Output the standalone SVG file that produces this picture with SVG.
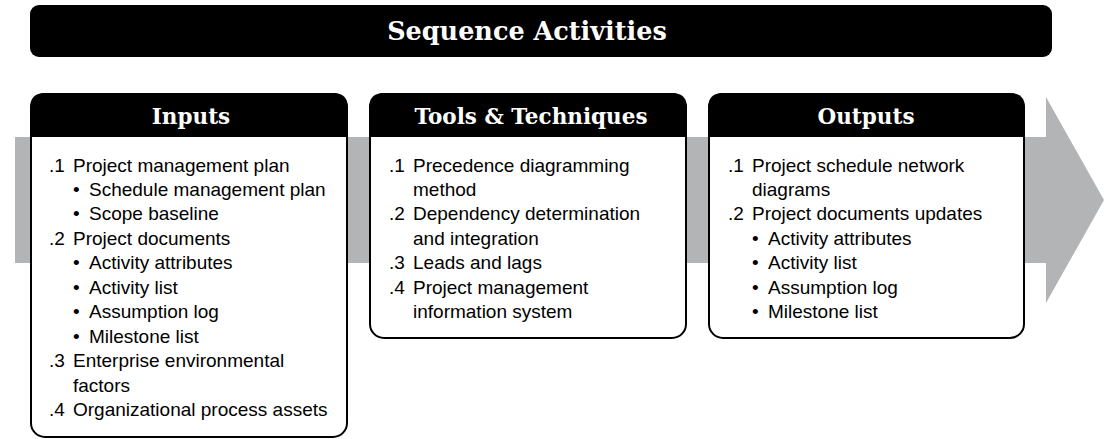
<svg xmlns="http://www.w3.org/2000/svg" width="1104" height="439" viewBox="0 0 1104 439">
<style>
.box{fill:#fff;stroke:#000;stroke-width:2}
.hdr{fill:#000}
.ht{font-family:"DejaVu Serif",serif;font-weight:bold;font-size:21.5px;fill:#fff;text-anchor:middle}
.tt{font-family:"DejaVu Serif",serif;font-weight:bold;font-size:25.5px;fill:#fff;text-anchor:middle}
.b{font-family:"Liberation Sans",Arial,sans-serif;font-size:19px;fill:#000}
</style>
<g id="flow-arrow">
<path d="M15,137 H1046 V97 L1104,200 L1046,303 V263 H15 Z" fill="#b2b4b6"/>
</g>
<g id="title">
<rect x="30" y="5" width="1022" height="52" rx="9" fill="#000"/>
<text class="tt" x="527" y="40">Sequence Activities</text>
</g>
<g id="inputs">
<rect class="box" x="31" y="94" width="316" height="343" rx="14"/>
<path class="hdr" d="M30,137 V108 Q30,93 45,93 H333 Q348,93 348,108 V137 Z"/>
<text class="ht" x="191" y="124">Inputs</text>
<text class="b" x="49" y="172">.1</text><text class="b" x="73" y="172">Project management plan</text>
<text class="b" x="73" y="196">•</text><text class="b" x="89" y="196">Schedule management plan</text>
<text class="b" x="73" y="220">•</text><text class="b" x="89" y="220">Scope baseline</text>
<text class="b" x="49" y="245">.2</text><text class="b" x="73" y="245">Project documents</text>
<text class="b" x="73" y="269">•</text><text class="b" x="89" y="269">Activity attributes</text>
<text class="b" x="73" y="294">•</text><text class="b" x="89" y="294">Activity list</text>
<text class="b" x="73" y="318">•</text><text class="b" x="89" y="318">Assumption log</text>
<text class="b" x="73" y="343">•</text><text class="b" x="89" y="343">Milestone list</text>
<text class="b" x="49" y="367">.3</text><text class="b" x="73" y="367">Enterprise environmental</text>
<text class="b" x="73" y="392">factors</text>
<text class="b" x="49" y="416">.4</text><text class="b" x="73" y="416">Organizational process assets</text>
</g>
<g id="tools">
<rect class="box" x="370" y="94" width="316" height="244" rx="14"/>
<path class="hdr" d="M369,137 V108 Q369,93 384,93 H672 Q687,93 687,108 V137 Z"/>
<text class="ht" x="531" y="124">Tools &amp; Techniques</text>
<text class="b" x="389" y="172">.1</text><text class="b" x="413" y="172">Precedence diagramming</text>
<text class="b" x="413" y="196">method</text>
<text class="b" x="389" y="220">.2</text><text class="b" x="413" y="220">Dependency determination</text>
<text class="b" x="413" y="245">and integration</text>
<text class="b" x="389" y="269">.3</text><text class="b" x="413" y="269">Leads and lags</text>
<text class="b" x="389" y="294">.4</text><text class="b" x="413" y="294">Project management</text>
<text class="b" x="413" y="318">information system</text>
</g>
<g id="outputs">
<rect class="box" x="709" y="94" width="315" height="244" rx="14"/>
<path class="hdr" d="M708,137 V108 Q708,93 723,93 H1010 Q1025,93 1025,108 V137 Z"/>
<text class="ht" x="866" y="124">Outputs</text>
<text class="b" x="728" y="172">.1</text><text class="b" x="752" y="172">Project schedule network</text>
<text class="b" x="752" y="196">diagrams</text>
<text class="b" x="728" y="220">.2</text><text class="b" x="752" y="220">Project documents updates</text>
<text class="b" x="752" y="245">•</text><text class="b" x="768" y="245">Activity attributes</text>
<text class="b" x="752" y="269">•</text><text class="b" x="768" y="269">Activity list</text>
<text class="b" x="752" y="294">•</text><text class="b" x="768" y="294">Assumption log</text>
<text class="b" x="752" y="318">•</text><text class="b" x="768" y="318">Milestone list</text>
</g>
<g id="connectors"></g>
</svg>
